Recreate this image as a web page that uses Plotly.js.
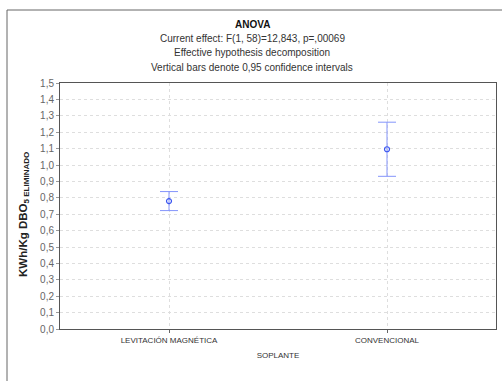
<!DOCTYPE html>
<html>
<head>
<meta charset="utf-8">
<script src="https://cdn.plot.ly/plotly-3.0.1.min.js"></script>
<style>html,body{margin:0;padding:0;background:#fff;}#chart{width:502px;height:381px;}</style>
</head>
<body>
<div id="chart"></div>
<script>
const categories = ["LEVITACIÓN MAGNÉTICA", "CONVENCIONAL"];
const means = [0.780, 1.096];
const ciHalf = [0.058, 0.165];
const yTickValues = [0,0.1,0.2,0.3,0.4,0.5,0.6,0.7,0.8,0.9,1.0,1.1,1.2,1.3,1.4,1.5];

const W = 502, H = 381, L = 60, R = 6, T = 83, B = 52;
const pw = W - L - R, ph = H - T - B;
const px = x => (x - L) / pw;
const py = y => (H - B - y) / ph;

const font = "Liberation Sans, Arial, sans-serif";

const trace = {
  type: "scatter",
  mode: "markers",
  x: categories,
  y: means,
  error_y: {type: "data", array: ciHalf, visible: true, color: "#8595fb", thickness: 1, width: 9},
  marker: {symbol: "circle-open", size: 5, color: "#3a55f0", line: {width: 1.2, color: "#3a55f0"}},
  hoverinfo: "skip",
  showlegend: false
};

const titleLines = [
  {text: "<b>ANOVA</b>", y: 25, color: "#111"},
  {text: "Current effect: F(1, 58)=12,843, p=,00069", y: 39, color: "#333"},
  {text: "Effective hypothesis decomposition", y: 53, color: "#333"},
  {text: "Vertical bars denote 0,95 confidence intervals", y: 67, color: "#333"}
];

const annotations = titleLines.map(t => ({
  xref: "paper", yref: "paper", x: px(252), y: py(t.y),
  xanchor: "center", yanchor: "middle", showarrow: false,
  text: t.text, font: {family: font, size: 10, color: t.color}
}));
annotations.push({
  xref: "paper", yref: "paper", x: px(24), y: py(215),
  xanchor: "center", yanchor: "middle", showarrow: false, textangle: -90,
  text: "<b>KWh/Kg DBO<sub>5 ELIMINADO</sub></b>", font: {family: font, size: 11.5, color: "#222"}
});

const layout = {
  width: W, height: H,
  margin: {l: L, r: R, t: T, b: B, pad: 0},
  paper_bgcolor: "#fff", plot_bgcolor: "#fff",
  separators: ",.",
  xaxis: {
    type: "category", range: [-0.5, 1.5],
    showline: true, mirror: true, linecolor: "#555", linewidth: 1,
    showgrid: true, gridcolor: "#dedede", griddash: "dot", gridwidth: 1,
    ticks: "outside", ticklen: 3, tickcolor: "#666",
    tickfont: {family: font, size: 8, color: "#333"},
    title: {text: "SOPLANTE", font: {family: font, size: 8, color: "#333"}, standoff: 8},
    zeroline: false, fixedrange: true
  },
  yaxis: {
    range: [0, 1.5], tickvals: yTickValues, tickformat: ".1f",
    showline: true, mirror: true, linecolor: "#555", linewidth: 1,
    showgrid: true, gridcolor: "#dedede", griddash: "dot", gridwidth: 1,
    ticks: "outside", ticklen: 3, tickcolor: "#999",
    tickfont: {family: font, size: 10, color: "#666"},
    zeroline: false, fixedrange: true
  },
  annotations: annotations,
  shapes: [{
    type: "path", xref: "paper", yref: "paper",
    path: `M ${px(7)} ${py(400)} L ${px(7)} ${py(10)} L ${px(520)} ${py(10)}`,
    line: {color: "#666", width: 1}
  }]
};

Plotly.newPlot("chart", [trace], layout, {staticPlot: true, displayModeBar: false});
</script>
</body>
</html>
